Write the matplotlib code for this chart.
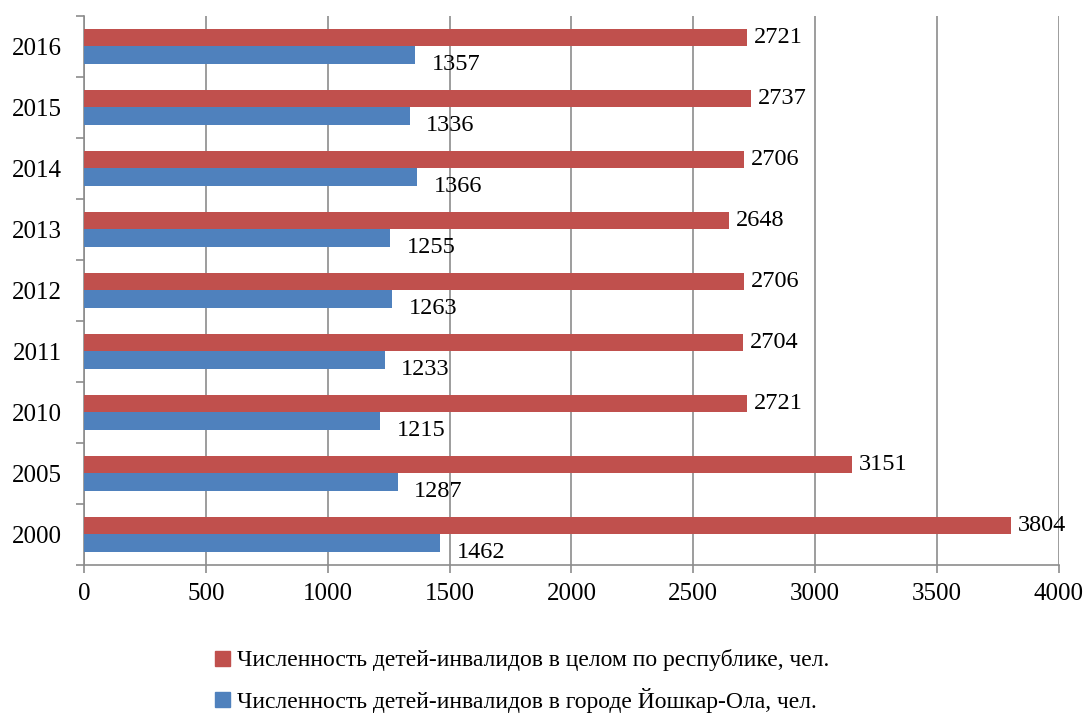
import matplotlib.pyplot as plt
import numpy as np
from matplotlib.patches import Patch

# Data
years = ["2000", "2005", "2010", "2011", "2012", "2013", "2014", "2015", "2016"]
republic = [3804, 3151, 2721, 2704, 2706, 2648, 2706, 2737, 2721]
city = [1462, 1287, 1215, 1233, 1263, 1255, 1366, 1336, 1357]

label_republic = "Численность детей-инвалидов в целом по республике, чел."
label_city = "Численность детей-инвалидов в городе Йошкар-Ола, чел."

RED = "#C0504D"
BLUE = "#4F81BD"
GRID = "#8C8C8C"

plt.rcParams["font.family"] = ["Liberation Serif", "DejaVu Serif"]

fig = plt.figure(figsize=(10.88, 7.17), dpi=100)
ax = fig.add_axes([0.0772, 0.212, 0.8961, 0.7658])

y = np.arange(len(years))
h = 0.28
ax.barh(y + h / 2, republic, height=h, color=RED, zorder=3)
ax.barh(y - h / 2, city, height=h, color=BLUE, zorder=3)

# value labels
for yi, v in zip(y, republic):
    ax.annotate(str(v), (v, yi + h / 2), xytext=(5, 0), textcoords="offset points",
                va="center", ha="left", fontsize=17.5)
for yi, v in zip(y, city):
    ax.annotate(str(v), (v, yi - h / 2), xytext=(12, -7), textcoords="offset points",
                va="center", ha="left", fontsize=17.5)

ax.set_xlim(0, 4000)
ax.set_ylim(-0.5, len(years) - 0.5)
ax.set_xticks(np.arange(0, 4001, 500))
ax.set_yticks(y)
ax.set_yticklabels(years)
ax.set_yticks(np.arange(-0.5, len(years), 1), minor=True)

ax.grid(axis="x", color=GRID, linewidth=1.2, zorder=0)
for s in ["top", "right"]:
    ax.spines[s].set_visible(False)
for s in ["left", "bottom"]:
    ax.spines[s].set_color(GRID)
    ax.spines[s].set_linewidth(1.2)

ax.tick_params(axis="y", which="major", length=0, labelsize=18, pad=16)
ax.tick_params(axis="y", which="minor", length=6, color=GRID, width=1.2)
ax.tick_params(axis="x", length=6, color=GRID, width=1.2, labelsize=18, pad=7)

handles = [Patch(color=RED, label=label_republic), Patch(color=BLUE, label=label_city)]
fig.legend(handles=handles, loc="center", bbox_to_anchor=(0.48, 0.05), ncol=1,
           frameon=False, fontsize=17, handlelength=0.6, handleheight=0.6,
           handletextpad=0.3, labelspacing=0.7)

fig.savefig("out.png", dpi=100)
